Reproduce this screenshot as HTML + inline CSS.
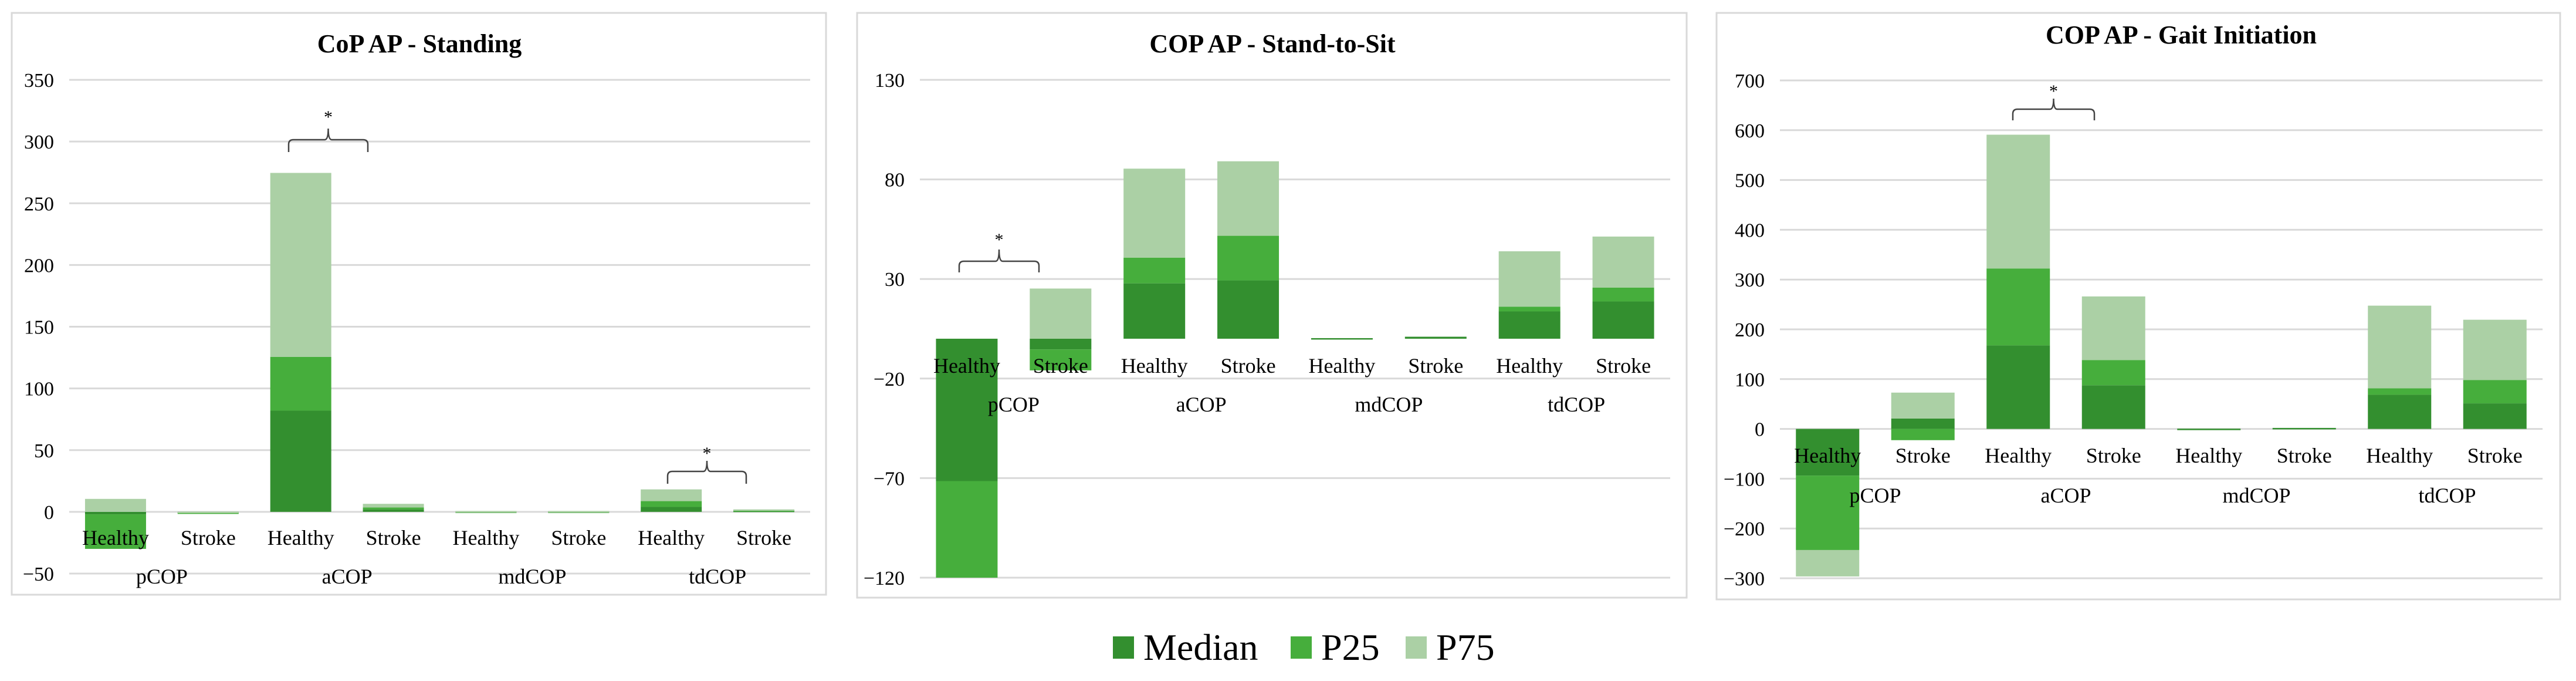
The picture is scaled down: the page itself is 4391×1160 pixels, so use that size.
<!DOCTYPE html>
<html><head><meta charset="utf-8"><style>
body{margin:0;background:#fff;}
svg text{font-family:"Liberation Serif",serif;fill:#000;}
</style></head><body>
<svg id="root" width="4391" height="1155" xmlns="http://www.w3.org/2000/svg"></svg>
<script>
const categories = ["Healthy","Stroke","Healthy","Stroke","Healthy","Stroke","Healthy","Stroke"];
const groups = ["pCOP","aCOP","mdCOP","tdCOP"];
// Standing
const standMedian = [-2, -0.5, 82, 2, 0.3, 0.3, 4, 1];
const standP25 = [-28, -0.3, 43.6, 1.5, 0.2, 0.2, 4.7, 0.5];
const standP75 = [10.5, 0.2, 149, 3, 0.2, 0.2, 9.5, 0.5];
const standTicks = [-50, 0, 50, 100, 150, 200, 250, 300, 350];
// Stand-to-sit
const sitMedian = [-71.5, -5.4, 27.8, 29.3, 0.3, 1, 13.7, 18.7];
const sitP25 = [-48.5, -10.5, 12.9, 22.4, 0, 0, 2.4, 7];
const sitP75 = [0, 25.2, 44.7, 37.4, 0, 0, 27.8, 25.6];
const sitTicks = [-120, -70, -20, 30, 80, 130];
// Gait initiation
const gaitMedian = [-93.8, 20.9, 167.7, 87.7, 0.5, 2, 68.6, 51.3];
const gaitP25 = [-149.5, -22.6, 154.6, 50.7, 0, 0, 13, 47];
const gaitP75 = [-53, 52, 268.7, 127.7, 0, 0, 166, 121];
const gaitTicks = [-300, -200, -100, 0, 100, 200, 300, 400, 500, 600, 700];

const colors = ["#338f2f", "#46ae3c", "#abd0a5"];
const svg = document.getElementById('root');
const NS = "http://www.w3.org/2000/svg";
function mk(tag, attrs, parent) {
  const e = document.createElementNS(NS, tag);
  for (const k in attrs) e.setAttribute(k, attrs[k]);
  (parent || svg).appendChild(e);
  return e;
}

function chart(cfg) {
  const g = mk('g', {});
  
  
  const fr = mk('rect', {x: cfg.fx1, y: 22, width: cfg.fx2 - cfg.fx1, height: cfg.fy2 - 22, fill: '#fff', stroke: '#d9d9d9', 'stroke-width': 3}, g);
  
  
  const t = mk('text', {x: cfg.tx, y: cfg.ty + 15, 'text-anchor': 'middle', 'font-size': 44, 'font-weight': 'bold'}, g);
  t.textContent = cfg.title;
  
  
  const min = cfg.ticks[0], max = cfg.ticks[cfg.ticks.length - 1];
  const y = v => cfg.yTop + (max - v) / (max - min) * (cfg.yBot - cfg.yTop);
  const slot = (cfg.px2 - cfg.px1) / categories.length;
  const xc = i => cfg.px1 + slot * (i + 0.5);
  cfg.ticks.forEach(v => {
    const l = mk('line', {x1: cfg.px1, x2: cfg.px2, y1: y(v), y2: y(v), stroke: '#d9d9d9', 'stroke-width': 3}, g);
    
    
    const tl = mk('text', {x: cfg.px1 - 26, y: y(v) + 12, 'text-anchor': 'end', 'font-size': 34}, g);
    tl.textContent = v < 0 ? '\u2212' + Math.abs(v) : String(v);
    
    
  });
  const series = [cfg.med, cfg.p25, cfg.p75];
  const sn = ['median', 'p25', 'p75'];
  categories.forEach((c, i) => {
    let pos = 0, neg = 0;
    series.forEach((s, k) => {
      const v = s[i];
      if (v === 0) return;
      let a, b;
      if (v > 0) { a = pos; b = pos + v; pos = b; } else { a = neg; b = neg + v; neg = b; }
      const y1 = Math.min(y(a), y(b)), h = Math.max(Math.abs(y(a) - y(b)), 2.5);
      const r = mk('rect', {x: xc(i) - cfg.bw / 2, y: y1, width: cfg.bw, height: h, fill: colors[k]}, g);
      
      
    });
  });
  categories.forEach((c, i) => {
    const tl = mk('text', {x: xc(i), y: cfg.catY + 12, 'text-anchor': 'middle', 'font-size': 36}, g);
    tl.textContent = c;
    
    
  });
  groups.forEach((gr, j) => {
    const tl = mk('text', {x: (xc(2 * j) + xc(2 * j + 1)) / 2, y: cfg.grpY + 12, 'text-anchor': 'middle', 'font-size': 36}, g);
    tl.textContent = gr;
    
    
  });
  cfg.brackets.forEach(b => {
    const m = (b.x1 + b.x2) / 2;
    const p = mk('path', {d: `M${b.x1},${b.end} L${b.x1},${b.top + 8} Q${b.x1},${b.top} ${b.x1 + 8},${b.top} L${m - 6},${b.top} Q${m},${b.top} ${m},${b.peak} Q${m},${b.top} ${m + 6},${b.top} L${b.x2 - 8},${b.top} Q${b.x2},${b.top} ${b.x2},${b.top + 8} L${b.x2},${b.end}`, fill: 'none', stroke: '#444', 'stroke-width': 2.5}, g);
    
    
    const s = mk('text', {x: m, y: b.star + 14, 'text-anchor': 'middle', 'font-size': 30}, g);
    s.textContent = '*';
    
    
  });
}

chart({name: 'chart-standing', title: 'CoP AP  - Standing', fx1: 20, fx2: 1408, fy2: 1013, tx: 715, ty: 74,
  px1: 118, px2: 1381, yTop: 136, yBot: 977, ticks: standTicks, bw: 104, catY: 916, grpY: 982,
  med: standMedian, p25: standP25, p75: standP75,
  brackets: [{x1: 492, x2: 627, top: 238, end: 259, peak: 219, star: 195}, {x1: 1138, x2: 1272, top: 803, end: 824, peak: 785, star: 768}]});
chart({name: 'chart-stand-to-sit', title: 'COP AP  - Stand-to-Sit', fx1: 1461, fx2: 2875, fy2: 1018, tx: 2169, ty: 74,
  px1: 1568, px2: 2847, yTop: 136, yBot: 984, ticks: sitTicks, bw: 105, catY: 623, grpY: 689,
  med: sitMedian, p25: sitP25, p75: sitP75,
  brackets: [{x1: 1635, x2: 1771, top: 445, end: 464, peak: 425, star: 404}]});
chart({name: 'chart-gait-initiation', title: 'COP AP - Gait Initiation', fx1: 2926, fx2: 4364, fy2: 1021, tx: 3718, ty: 59,
  px1: 3034, px2: 4334, yTop: 137, yBot: 985, ticks: gaitTicks, bw: 108, catY: 776, grpY: 844,
  med: gaitMedian, p25: gaitP25, p75: gaitP75,
  brackets: [{x1: 3431, x2: 3570, top: 186, end: 205, peak: 168, star: 151}]});

const legendLabels = ["Median", "P25", "P75"];
const legendX = [1897, 2200, 2396];
const lg = mk('g', {});


legendLabels.forEach((l, k) => {
  const r = mk('rect', {x: legendX[k], y: 1084, width: 36, height: 38, fill: colors[k]}, lg);
  
  
  const t = mk('text', {x: legendX[k] + 52, y: 1124, 'font-size': 64}, lg);
  t.textContent = l;
  
  
});
</script>
</body></html>
